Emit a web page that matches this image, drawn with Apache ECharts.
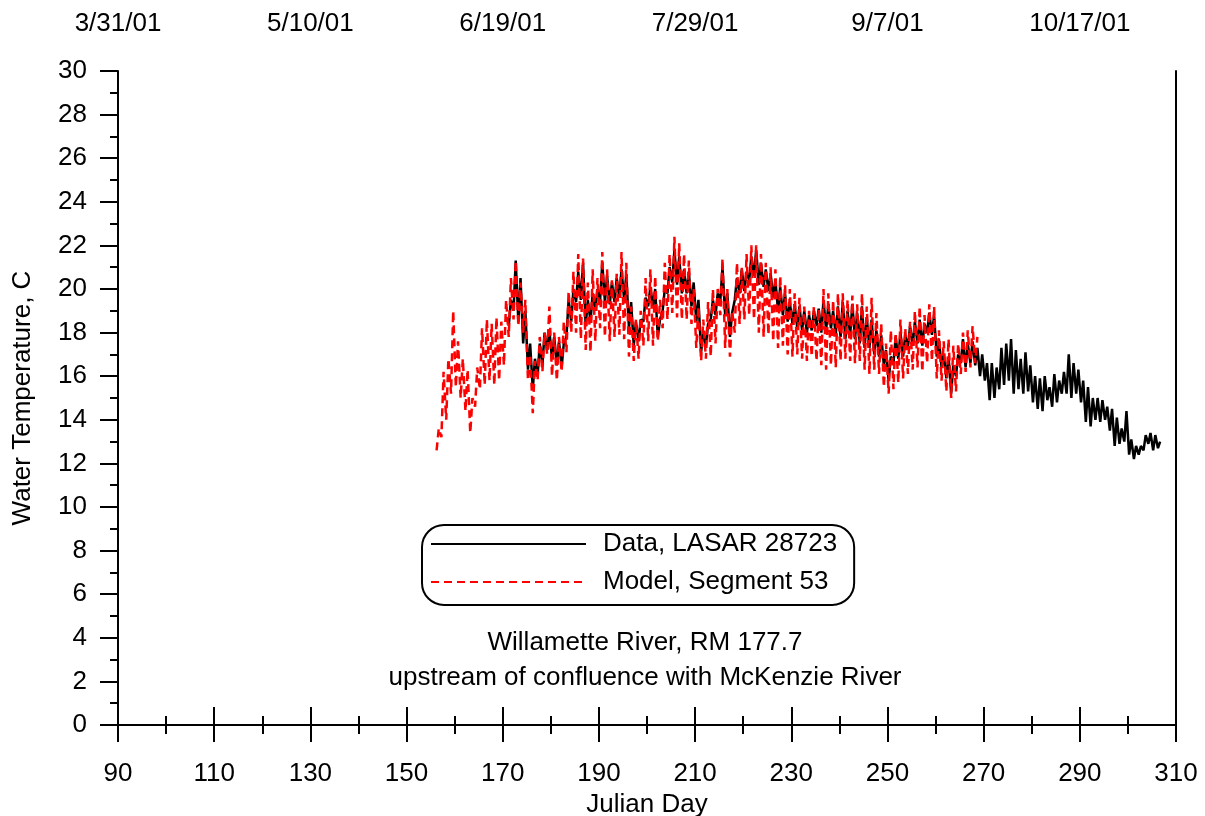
<!DOCTYPE html>
<html>
<head>
<meta charset="utf-8">
<script src="https://cdn.jsdelivr.net/npm/echarts@6/dist/echarts.min.js"></script>
<style>
html,body{margin:0;padding:0;background:#fff;}
#chart{width:1205px;height:816px;}
</style>
</head>
<body>
<div id="chart"></div>
<script>
// ---- Data ----
// Data, LASAR 28723: daily minimum / maximum, Julian days 171..306
var dataStartDay = 171;
var dataDailyMin = [18.3,19.0,18.5,17.5,16.3,15.4,16.0,16.5,17.2,16.8,16.5,16.4,17.8,18.5,19.4,19.5,18.3,18.5,19.0,19.5,
19.4,19.3,19.4,19.6,19.5,18.2,17.4,17.6,18.5,19.2,19.2,17.8,19.0,19.8,20.3,20.2,19.8,19.8,19.2,18.5,
17.1,17.4,18.6,18.8,19.5,18.8,17.8,19.5,19.8,19.9,20.4,20.6,20.2,20.1,19.9,19.6,19.0,18.8,18.5,18.4,
18.2,18.1,18.0,18.1,18.3,18.0,18.1,18.2,17.9,17.8,17.7,17.9,17.7,17.5,17.3,17.3,17.0,16.9,16.5,15.8,
16.6,16.8,16.9,17.3,17.4,17.5,17.4,18.0,17.9,16.9,16.4,15.9,15.2,16.0,16.6,16.4,16.6,16.5,16.0,15.8,
14.9,15.0,15.4,15.6,15.8,15.2,15.4,15.2,15.3,14.8,14.5,14.4,14.9,14.6,14.8,15.2,15.2,15.0,15.2,14.8,
13.9,13.7,14.0,13.9,14.0,13.5,12.8,12.9,13.0,12.4,12.2,12.4,12.6,12.9,12.6,12.7];
var dataDailyMax = [19.5,21.3,20.5,19.0,17.5,16.8,17.5,18.0,18.1,17.8,17.6,17.5,19.5,20.0,20.8,21.2,19.5,19.8,20.0,21.2,
20.6,20.3,20.5,20.9,20.7,19.4,18.5,18.6,19.6,20.1,20.0,18.6,20.0,21.0,21.8,21.5,20.9,20.8,20.3,19.5,
18.0,18.4,19.5,19.8,21.0,19.8,18.9,20.5,20.9,20.8,21.5,21.8,21.2,20.9,20.7,20.4,20.1,19.8,19.4,19.3,
19.2,19.0,18.8,19.0,19.1,19.5,19.3,19.0,19.2,19.4,19.0,19.3,18.9,19.2,18.7,18.6,18.1,17.9,17.2,16.9,
17.8,18.0,17.9,18.3,18.5,18.6,18.4,18.9,18.8,17.7,17.0,16.9,16.5,17.0,17.7,17.5,17.6,17.3,17.0,16.6,
16.6,16.4,17.3,17.5,17.7,17.2,16.8,17.1,16.5,16.0,15.9,16.0,15.5,16.1,15.8,16.2,17.0,16.6,16.3,15.8,
15.5,15.0,15.0,14.9,14.6,14.5,14.1,13.6,14.4,13.1,12.8,12.8,13.3,13.4,13.3,13.0];

// Model, Segment 53: daily minimum / maximum, Julian days 156..268
var modelStartDay = 156;
var modelDailyMin = [12.6,13.2,14.0,15.2,15.5,15.0,14.4,13.4,14.6,15.4,15.6,15.8,15.6,15.8,16.5,17.8,18.6,18.3,18.0,15.8,
14.3,15.8,16.2,17.0,16.0,15.8,16.2,17.1,18.0,18.0,17.7,17.2,17.1,17.6,18.2,17.8,17.6,17.8,17.9,17.7,
16.9,16.7,16.8,17.4,17.6,17.4,17.6,18.2,18.6,18.9,18.7,18.6,18.6,18.4,17.3,16.7,16.8,16.9,17.5,18.8,
17.3,16.9,18.0,18.4,18.6,18.8,18.6,18.0,17.8,17.9,17.6,17.3,17.4,17.0,16.9,17.0,16.8,16.7,16.9,16.7,
16.5,16.3,16.5,16.4,16.7,16.8,16.7,16.6,16.7,16.3,16.1,16.3,16.1,15.5,15.2,15.4,15.7,15.9,16.1,16.3,
16.4,16.2,16.6,16.7,15.9,15.8,15.3,15.0,15.3,16.1,16.2,16.4,16.6];
var modelDailyMax = [13.6,16.2,16.8,19.0,17.6,16.8,16.3,15.0,16.4,18.2,18.6,18.4,18.7,18.5,19.5,20.5,21.3,20.3,19.5,17.0,
16.7,17.8,18.0,19.2,18.0,17.8,18.5,19.9,20.8,21.6,21.4,20.3,20.9,20.5,21.7,20.9,20.4,20.7,21.7,21.2,
19.2,18.6,19.0,20.5,20.9,20.6,19.5,21.2,21.6,22.4,22.1,21.6,21.3,20.0,19.2,18.6,19.4,20.0,20.0,21.4,
20.0,19.0,21.2,21.0,21.6,22.0,22.0,21.6,21.2,21.0,20.9,20.6,20.2,20.0,19.8,19.6,19.2,19.0,19.2,19.1,
20.0,19.8,19.5,19.8,19.8,19.5,19.7,19.3,19.8,19.2,19.6,18.9,18.4,17.5,18.1,18.0,18.6,18.2,18.5,19.0,
19.2,18.8,19.3,19.2,18.1,17.6,17.7,17.4,17.5,18.0,18.1,18.3,17.8];

// Axis tick labels
var topTickDays = [90,130,170,210,250,290];
var topTickLabels = ['3/31/01','5/10/01','6/19/01','7/29/01','9/7/01','10/17/01'];
var seriesNames = ['Data, LASAR 28723','Model, Segment 53'];
var annotationLines = ['Willamette River, RM 177.7','upstream of confluence with McKenzie River'];

// Build [day, value] pairs: minimum in early morning, maximum in afternoon
function buildSeries(start, mins, maxs){
  var out = [];
  for (var i = 0; i < mins.length; i++){
    out.push([start + i + 0.25, mins[i]]);
    out.push([start + i + 0.70, maxs[i]]);
  }
  return out;
}
var dataPts = buildSeries(dataStartDay, dataDailyMin, dataDailyMax);
var modelPts = buildSeries(modelStartDay, modelDailyMin, modelDailyMax);

var FONT = '"Liberation Sans", Arial, sans-serif';
var FS = 26;
var axisLine = {show:true, lineStyle:{color:'#000', width:2}};

var chart = echarts.init(document.getElementById('chart'), null, {renderer:'canvas'});
chart.setOption({
  animation:false,
  backgroundColor:'#fff',
  grid:{left:118, right:29, top:71, bottom:91, containLabel:false, outerBoundsMode:'none'},
  legend:{
    orient:'vertical', left:422, top:525,
    padding:[6,17,10,8], itemGap:12,
    itemWidth:155, itemHeight:14,
    borderColor:'#000', borderWidth:2, borderRadius:22,
    itemStyle:{opacity:0},
    textStyle:{fontFamily:FONT, fontSize:FS, color:'#000', padding:[0,0,0,12]},
    data:seriesNames
  },
  graphic:[{
    type:'text', x:645, y:625,
    style:{text:annotationLines.join('\n'), font:FS+'px '+FONT, fill:'#000', align:'center', verticalAlign:'top', lineHeight:35}
  }],
  xAxis:[{
    type:'value', position:'bottom', min:90, max:310, interval:20,
    name:'Julian Day', nameLocation:'middle', nameGap:60,
    nameTextStyle:{fontFamily:FONT, fontSize:FS, color:'#000'},
    axisLine:axisLine,
    axisTick:{show:true, inside:false, length:17, lineStyle:{color:'#000', width:2}},
    minorTick:{show:true, splitNumber:2, length:9, lineStyle:{color:'#000', width:2}},
    axisLabel:{fontFamily:FONT, fontSize:FS, color:'#000', margin:36},
    splitLine:{show:false}
  },{
    type:'value', position:'top', min:90, max:310, interval:20,
    axisLine:axisLine,
    axisTick:{show:true, inside:false, length:18, lineStyle:{color:'#000', width:2}},
    minorTick:{show:true, splitNumber:2, length:9, lineStyle:{color:'#000', width:2}},
    axisLabel:{fontFamily:FONT, fontSize:FS, color:'#000', margin:34, showMaxLabel:false,
      formatter:function(v){ var k = topTickDays.indexOf(v); return k>=0 ? topTickLabels[k] : ''; }},
    splitLine:{show:false}
  }],
  yAxis:[{
    type:'value', position:'left', min:0, max:30, interval:2,
    name:'Water Temperature, C', nameLocation:'middle', nameGap:82,
    nameTextStyle:{fontFamily:FONT, fontSize:FS, color:'#000'},
    axisLine:axisLine,
    axisTick:{show:true, inside:false, length:18, lineStyle:{color:'#000', width:2}},
    minorTick:{show:true, splitNumber:2, length:8, lineStyle:{color:'#000', width:2}},
    axisLabel:{fontFamily:FONT, fontSize:FS, color:'#000', margin:31},
    splitLine:{show:false}
  },{
    type:'value', position:'right', min:0, max:30, interval:2,
    axisLine:axisLine, axisTick:{show:false}, axisLabel:{show:false}, splitLine:{show:false}
  }],
  series:[{
    name:seriesNames[0], type:'line', xAxisIndex:0, yAxisIndex:0,
    data:dataPts, showSymbol:false, symbol:'none',
    lineStyle:{color:'#000', width:2.5}, itemStyle:{color:'#000'}
  },{
    name:seriesNames[1], type:'line', xAxisIndex:0, yAxisIndex:0,
    data:modelPts, showSymbol:false, symbol:'none',
    lineStyle:{color:'#ff0000', width:2.5, type:[8,5]}, itemStyle:{color:'#ff0000'}
  }]
});
</script>
</body>
</html>
